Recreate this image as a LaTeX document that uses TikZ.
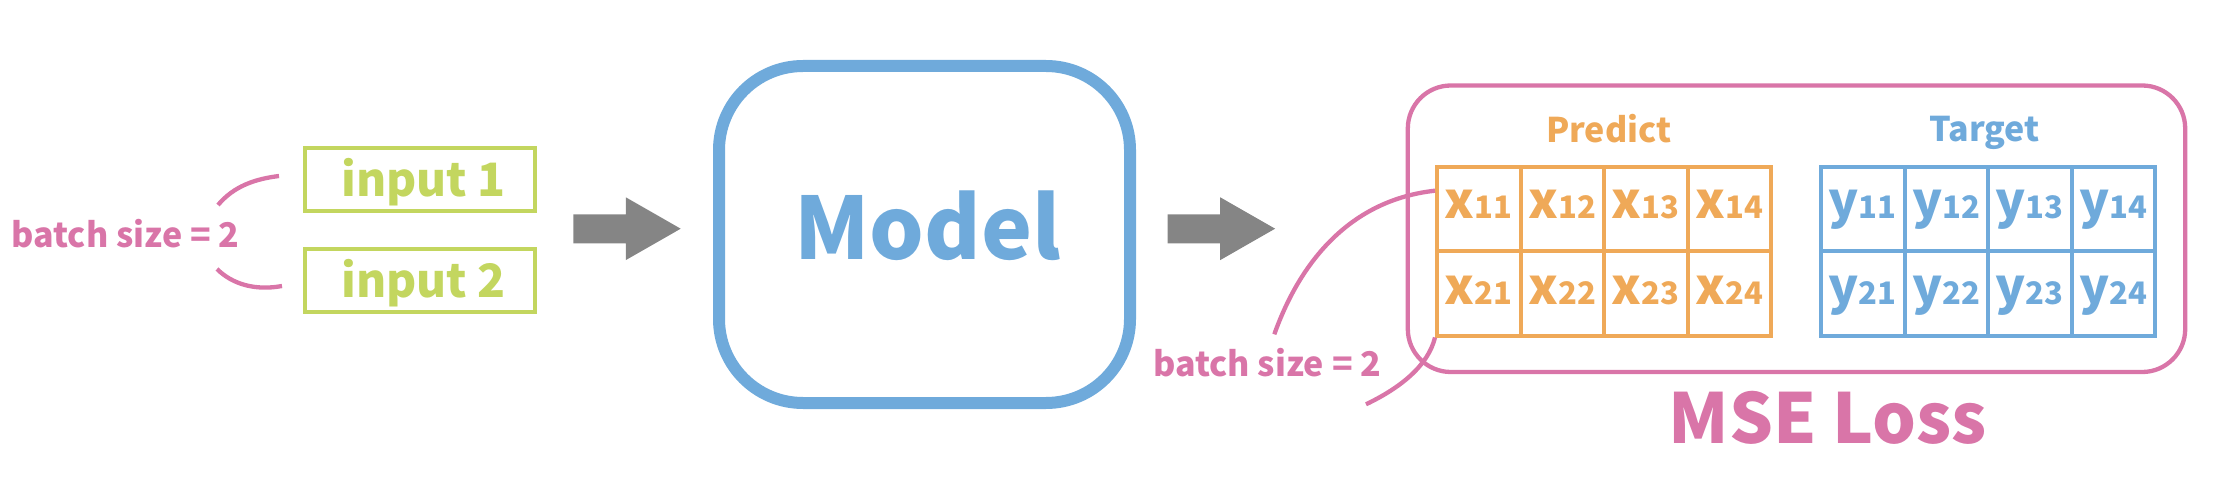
\documentclass[tikz,border=0pt]{standalone}
\usepackage{fontspec}
\setmainfont{Noto Sans CJK JP}
\definecolor{pinkc}{HTML}{D975A8}
\definecolor{greenc}{HTML}{C3D65F}
\definecolor{bluec}{HTML}{6FAADB}
\definecolor{orangec}{HTML}{EFA958}
\definecolor{grayc}{HTML}{858585}
\newcommand{\fsz}[1]{\fontsize{#1}{#1}\selectfont}
\newcommand{\cellxy}[2]{{\fsz{50}\bfseries #1}{\fsz{31}\bfseries #2}}
\begin{document}
\begin{tikzpicture}[x=1pt,y=-1pt,
  lbl/.style={inner sep=0pt, outer sep=0pt, anchor=base},
  brk/.style={draw=pinkc, line width=4.3pt},
  inbox/.style={draw=greenc, line width=4pt, minimum width=229.4pt, minimum height=63pt, inner sep=0pt},
  cellbox/.style={line width=4pt, minimum width=83.5pt, minimum height=84pt, inner sep=0pt},
  fatarrow/.pic={\fill[grayc] (0,-14.4) -- (52.5,-14.4) -- (52.5,-31.4) -- (107.4,0) -- (52.5,31.4) -- (52.5,14.6) -- (0,14.6) -- cycle;}]
\useasboundingbox (0,0) rectangle (2216,494);

% inputs
\node[lbl, text=pinkc, font=\fsz{34}\bfseries] (bsL) at (125.5,248) {batch size = 2};
\coordinate (aUs) at (218,205); \coordinate (aUe) at (279,176);
\coordinate (aLs) at (217,269); \coordinate (aLe) at (282,286);
\draw[brk] (aUs) .. controls (234,186) and (255,179) .. (aUe);
\draw[brk] (aLs) .. controls (232,284) and (255,291) .. (aLe);

\node[inbox] (in1) at (420,179.2) {};
\node[inbox] (in2) at (420,280.3) {};
\node[lbl, text=greenc, font=\fsz{46}\bfseries] (in1t) at (423.7,196.7) {input 1};
\node[lbl, text=greenc, font=\fsz{46}\bfseries] (in2t) at (423.7,297.8) {input 2};

\pic (arr1) at (573.3,228.7) {fatarrow};

% model
\node[draw=bluec, line width=12pt, rounded corners=84pt, minimum width=411pt, minimum height=337pt, inner sep=0pt] (model) at (924.5,234.5) {};
\node[lbl, text=bluec, font=\fsz{86}\bfseries] (modelt) at (927.5,260) {Model};

\pic (arr2) at (1167.7,228.7) {fatarrow};

% loss
\node[draw=pinkc, line width=4.3pt, rounded corners=43pt, minimum width=777.4pt, minimum height=286.5pt, inner sep=0pt] (mse) at (1796.5,228.75) {};
\node[lbl, text=orangec, font=\fsz{34}\bfseries] (pred) at (1608.8,142.7) {Predict};
\node[lbl, text=bluec, font=\fsz{34}\bfseries] (targ) at (1984.5,141.7) {Target};

\foreach \r/\bl in {1/218.3,2/305}{
  \foreach \c in {1,...,4}{
    \pgfmathsetmacro\px{1437+83.5*(\c-0.5)}
    \pgfmathsetmacro\tx{1821+83.5*(\c-0.5)}
    \pgfmathsetmacro\cy{167.5+84*(\r-0.5)}
    \node[cellbox, draw=orangec] (p\r\c) at (\px,\cy) {};
    \node[cellbox, draw=bluec] (t\r\c) at (\tx,\cy) {};
    \node[lbl, text=orangec] (pl\r\c) at (\px,\bl) {\cellxy{x}{\r\c}};
    \node[lbl, text=bluec] (tl\r\c) at (\tx,\bl) {\cellxy{y}{\r\c}};
  }
}

\node[lbl, text=pinkc, font=\fsz{34}\bfseries] (bsR) at (1267.3,376) {batch size = 2};
\coordinate (bUs) at (1274.3,334.3);
\draw[brk] (bUs) .. controls (1300,262) and (1350,200) .. (p11.west |- 0,190.7);
\coordinate (bLs) at (1366,404.3);
\draw[brk] (bLs) .. controls (1400,388) and (1428,366) .. (p21.south west);

\node[lbl, text=pinkc, font=\fsz{69}\bfseries] (mset) at (1827.5,443.3) {MSE Loss};
\end{tikzpicture}
\end{document}
